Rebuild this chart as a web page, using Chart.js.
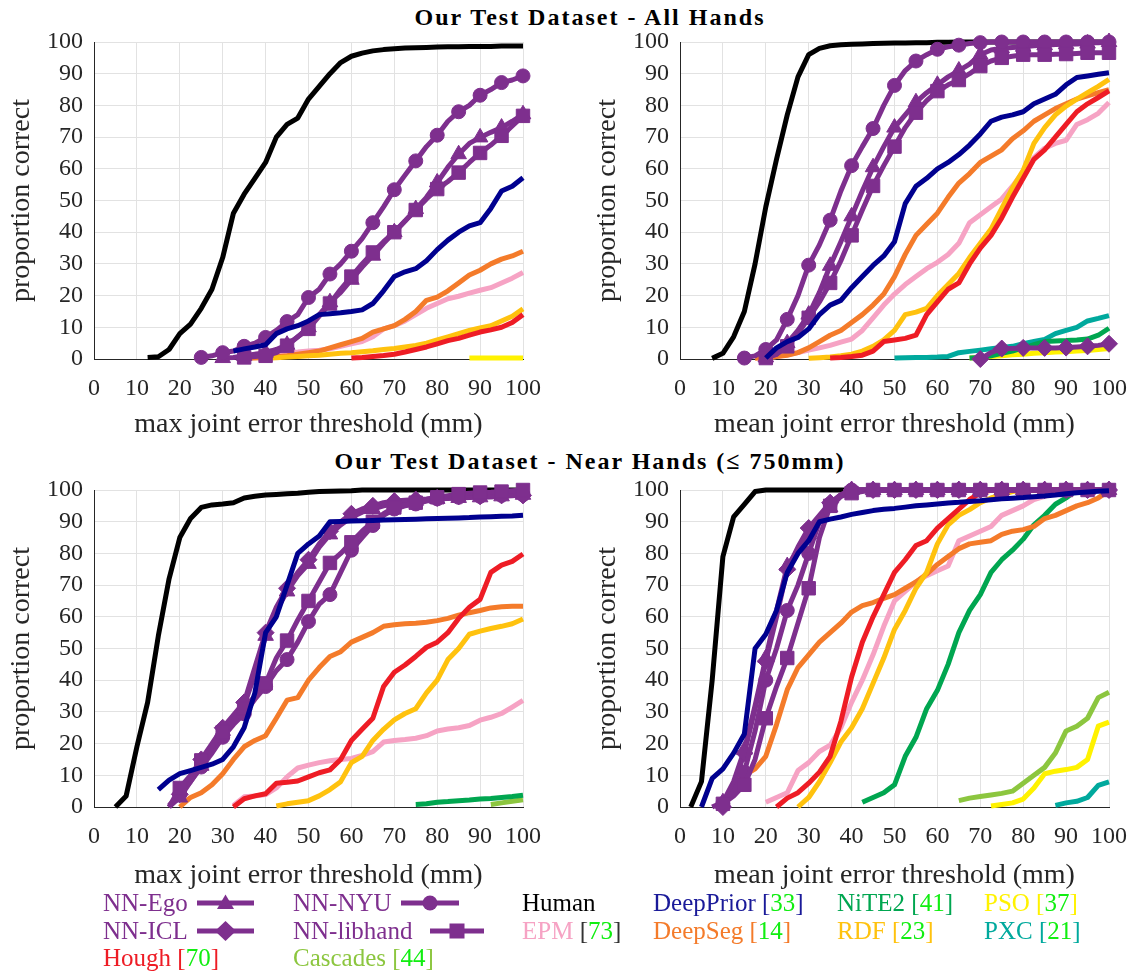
<!DOCTYPE html>
<html>
<head>
<meta charset="utf-8">
<title>Our Test Dataset</title>
<script src="https://cdn.jsdelivr.net/npm/chart.js@4.4.0/dist/chart.umd.min.js"></script>
<style>
  html, body { margin: 0; padding: 0; background: #fff; }
  body { width: 1142px; height: 974px; position: relative; overflow: hidden; font-family: "Liberation Serif", Tinos, "Times New Roman", "DejaVu Serif", serif; }
  canvas { position: absolute; }
  .title { position: absolute; left: 0; width: 1180px; text-align: center; font-weight: bold; font-size: 24px; line-height: 28px; letter-spacing: 2px; color: #000; }
  .leg { position: absolute; font-size: 25px; line-height: 28px; white-space: nowrap; }
  .leg .ref { color: #11ee11; }
  .mk { position: absolute; }
</style>
</head>
<body>

<div class="title" style="top:3px">Our Test Dataset - All Hands</div>
<div class="title" style="top:447px">Our Test Dataset - Near Hands (≤ 750mm)</div>

<canvas id="maxAll" width="556" height="445" style="left:0;top:0"></canvas>
<canvas id="meanAll" width="556" height="445" style="left:586px;top:0"></canvas>
<canvas id="maxNear" width="556" height="445" style="left:0;top:448px"></canvas>
<canvas id="meanNear" width="556" height="445" style="left:586px;top:448px"></canvas>

<!-- legend -->
<div class="leg" style="left:103px;top:889px;color:#7e2f8e">NN-Ego</div>
<svg class="mk" style="left:197px;top:893px" width="57" height="20">
  <line x1="0" y1="10" x2="57" y2="10" stroke="#7e2f8e" stroke-width="5"/>
  <polygon points="28.5,1.5 37,16 20,16" fill="#7e2f8e"/>
</svg>
<div class="leg" style="left:103px;top:917px;color:#7e2f8e">NN-ICL</div>
<svg class="mk" style="left:197px;top:920px" width="57" height="22">
  <line x1="0" y1="11" x2="57" y2="11" stroke="#7e2f8e" stroke-width="5"/>
  <polygon points="28.5,1 39,11 28.5,21 18,11" fill="#7e2f8e"/>
</svg>
<div class="leg" style="left:103px;top:944px;color:#ee1c25">Hough <span>[<span class="ref">70</span>]</span></div>

<div class="leg" style="left:293px;top:889px;color:#7e2f8e">NN-NYU</div>
<svg class="mk" style="left:401px;top:893px" width="58" height="20">
  <line x1="0" y1="10" x2="58" y2="10" stroke="#7e2f8e" stroke-width="5"/>
  <circle cx="29" cy="10" r="7.5" fill="#7e2f8e"/>
</svg>
<div class="leg" style="left:293px;top:917px;color:#7e2f8e">NN-libhand</div>
<svg class="mk" style="left:430px;top:921px" width="54" height="20">
  <line x1="0" y1="10" x2="54" y2="10" stroke="#7e2f8e" stroke-width="5"/>
  <rect x="19.5" y="2.5" width="15" height="15" fill="#7e2f8e"/>
</svg>
<div class="leg" style="left:293px;top:944px;color:#8cc63f">Cascades [<span class="ref">44</span>]</div>

<div class="leg" style="left:522px;top:889px;color:#000">Human</div>
<div class="leg" style="left:522px;top:917px;color:#f6a3c4">EPM <span style="color:#333">[<span class="ref">73</span>]</span></div>

<div class="leg" style="left:653px;top:889px;color:#1a1a99">DeepPrior [<span class="ref">33</span>]</div>
<div class="leg" style="left:653px;top:917px;color:#f47b2a">DeepSeg [<span class="ref">14</span>]</div>

<div class="leg" style="left:837px;top:889px;color:#00a650">NiTE2 [<span class="ref">41</span>]</div>
<div class="leg" style="left:837px;top:917px;color:#ffc20e">RDF [<span class="ref">23</span>]</div>

<div class="leg" style="left:984px;top:889px;color:#fff200">PSO [<span class="ref">37</span>]</div>
<div class="leg" style="left:984px;top:917px;color:#00a99d">PXC [<span class="ref">21</span>]</div>

<script>
// Threshold grid (mm), shared by every curve; each curve array is right-aligned to it
var THRESH = [0, 2.5, 5, 7.5, 10, 12.5, 15, 17.5, 20, 22.5, 25, 27.5, 30, 32.5, 35, 37.5, 40, 42.5, 45, 47.5,
  50, 52.5, 55, 57.5, 60, 62.5, 65, 67.5, 70, 72.5, 75, 77.5, 80, 82.5, 85, 87.5, 90, 92.5, 95, 97.5, 100];
var X_TICKS = [0, 10, 20, 30, 40, 50, 60, 70, 80, 90, 100];
var Y_TICKS = [0, 10, 20, 30, 40, 50, 60, 70, 80, 90, 100];

// ---- Top left: max joint error, all hands (values end at 100 mm) ----
var maxAllHuman = [0.5, 0.7, 3, 8, 11, 16, 22, 32, 46, 52, 57, 62, 70, 74, 76, 82, 86, 90, 93.5, 95.5, 96.5, 97.2, 97.6, 97.9, 98.1, 98.2, 98.3, 98.4, 98.5, 98.5, 98.6, 98.6, 98.6, 98.7, 98.7, 98.7];
var maxAllNYU = [0.5, 1, 2, 2.5, 4, 5, 6.8, 9, 11.8, 14, 19.4, 22, 26.8, 30, 34, 38, 43, 48, 53.4, 58, 62.5, 67, 70.6, 75, 78, 80, 83.2, 85, 87.2, 88, 89.3];
var maxAllEgo = [0.3, 0.5, 1, 1.5, 2, 3, 4.5, 7, 10, 14, 17.9, 21, 25, 29, 32.6, 36.5, 40, 43.5, 47.3, 51, 55.7, 60.5, 64.6, 68, 69.9, 71.5, 73, 75, 77.2];
var maxAllLibhand = [0.5, 0.8, 1, 2, 4.2, 7, 9.5, 13.5, 17.5, 22, 26, 30, 33.6, 37, 40, 43.5, 47, 50.5, 53.6, 56, 58.8, 62, 65, 67.5, 70.4, 73.5, 76.7];
var maxAllDeepPrior = [2.5, 3.2, 3.8, 4.5, 8, 9.5, 10.5, 12, 14, 14.3, 14.6, 15, 15.5, 17.5, 21.5, 26, 27.5, 28.5, 31, 34.5, 37.5, 40, 42, 43, 47.5, 53, 54.5, 57.2];
var maxAllDeepSeg = [0.2, 0.3, 0.5, 0.7, 1, 1.5, 2, 2.5, 3.5, 4.5, 5.5, 6.5, 8.5, 9.5, 10.5, 12.5, 15, 18.5, 19.5, 21.5, 24, 26.5, 28, 30, 31.5, 32.5, 34];
var maxAllEPM = [1.5, 1.6, 1.8, 2, 2.2, 2.5, 2.8, 3.2, 4, 4.8, 5.5, 7, 9.5, 10.5, 12, 14, 16, 17.5, 19, 19.8, 20.8, 21.7, 22.5, 24, 25.5, 27.3];
var maxAllRDF = [0.2, 0.4, 0.6, 0.8, 1, 1.2, 1.5, 1.8, 2, 2.3, 2.6, 3, 3.3, 3.8, 4.3, 5, 6, 7, 8, 9, 9.8, 10.5, 12, 13.5, 15.8];
var maxAllHough = [0.3, 0.5, 0.8, 1.1, 1.5, 2.2, 3, 3.8, 4.8, 5.8, 6.5, 7.5, 8.5, 9.2, 10, 11.5, 14];
var maxAllPSO = [0.3, 0.3, 0.3, 0.3, 0.3, 0.3];

// ---- Top right: mean joint error, all hands ----
var meanAllHuman = [0.2, 1.8, 7, 15, 30, 48, 63, 77, 89, 96, 98, 98.8, 99.1, 99.3, 99.4, 99.5, 99.6, 99.7, 99.7, 99.8, 99.8, 99.9, 99.9, 100, 100, 100, 100, 100, 100, 100, 100, 100, 100, 100, 100, 100, 100, 100];
var meanAllNYU = [0.3, 1, 3, 6, 12.5, 20, 29.6, 36, 43.8, 53, 61, 67, 72.7, 80, 86.3, 91, 94, 96, 97.7, 98.5, 99, 99.5, 99.8, 100, 100, 100, 100, 100, 100, 100, 100, 100, 100, 100, 100];
var meanAllEgo = [0.5, 1.5, 5, 9, 14, 21, 29.4, 37, 45, 53, 60.5, 67, 73, 77, 81, 84, 86.5, 89, 91, 93, 96, 97.5, 98, 98.3, 98.5, 98.8, 99, 99.2, 99.3, 99.4, 99.5, 99.8, 100];
var meanAllLibhand = [0.3, 1.5, 4, 8, 13, 18, 24, 31, 39, 47, 54.6, 61, 67, 73, 77.7, 81.5, 84.5, 86.5, 88, 90, 92.4, 94, 95, 95.5, 96, 96, 96, 96.1, 96.2, 96.4, 96.6, 96.6, 96.6];
var meanAllICL = [0, 2, 3.3, 3.3, 3.5, 3.5, 3.5, 3.5, 3.6, 3.8, 4, 4.3, 4.8];
var meanAllDeepPrior = [0.3, 3.5, 5.5, 6.8, 9.5, 14, 17, 18.5, 22.5, 26, 29.5, 32.5, 37, 49, 54.5, 57, 60, 62, 64.5, 67.5, 71, 75, 76.3, 77, 78, 80.5, 82, 83.5, 86.5, 88.8, 89.3, 89.8, 90.3];
var meanAllDeepSeg = [0.2, 0.4, 0.8, 1.2, 2, 3.5, 5.5, 7.5, 9, 11.5, 14, 17, 20.5, 26, 33, 39, 42.5, 46, 51, 55.5, 58.5, 62, 64, 66, 69.5, 72, 75, 77, 79, 80.5, 82, 83, 84, 85];
var meanAllEPM = [0.3, 0.8, 1.3, 2, 2.8, 3.5, 4.3, 5.3, 6.3, 9, 13, 17, 20.5, 23.5, 26, 28.5, 30.5, 33, 36.5, 43, 45.5, 48, 50.5, 54.5, 59, 63.5, 66.5, 68, 69, 74, 75.5, 77.5, 80.9];
var meanAllRDF = [0.2, 0.4, 0.6, 1, 1.5, 2.5, 4, 6, 9, 14, 14.8, 16, 20, 23.5, 27, 32, 36.5, 41, 47.5, 54, 59.5, 68, 73, 77, 79.8, 82, 84, 86, 88.2];
var meanAllHough = [0.3, 0.5, 0.8, 1.2, 2.5, 5.5, 6, 6.5, 7.5, 14, 18, 22, 24, 30, 35, 39, 44.5, 51, 57, 63, 66, 70, 74, 78, 80.5, 82.5, 84.6];
var meanAllNiTE2 = [0.3, 0.5, 1, 1.8, 2.5, 3.5, 4.5, 5.5, 5.7, 5.8, 6, 6.3, 7.5, 9.7];
var meanAllPXC = [0.3, 0.4, 0.5, 0.5, 0.6, 0.8, 2, 2.4, 2.8, 3.2, 3.6, 4, 4.8, 5.5, 6.2, 8, 9, 10, 12, 12.8, 13.7];
var meanAllPSO = [0.3, 0.5, 0.8, 1, 1.3, 1.5, 1.8, 2, 2.2, 2.3, 2.5, 2.7, 3, 3.3];

// ---- Bottom left: max joint error, near hands ----
var maxNearHuman = [0, 3.5, 19, 33, 54, 72, 85, 91, 94.5, 95.3, 95.6, 96, 97.5, 98, 98.4, 98.6, 98.8, 99, 99.3, 99.5, 99.6, 99.7, 99.8, 100, 100, 100, 100, 100, 100, 100, 100, 100, 100, 100, 100, 100, 100, 100, 100];
var maxNearEgo = [0, 3, 8, 13, 19, 24, 28, 32, 42, 54, 62, 68, 73, 76.7, 82, 86, 89, 91.4, 93, 94, 95, 95.6, 96, 96.6, 97, 97.2, 97.3, 97.5, 97.6, 97.7, 97.8, 98, 98.2, 98.5];
var maxNearICL = [0.5, 4, 9, 15, 20, 25, 29, 33, 44, 55, 63, 69, 74, 78, 83, 87, 90, 92.5, 94, 95, 96, 96.5, 96.8, 97, 97.2, 97.5, 97.7, 98, 98, 98, 98.2, 98.3, 98.3, 98.3];
var maxNearLibhand = [0, 6, 10, 14.7, 19, 23.6, 27, 31, 35, 39, 47, 52.5, 59, 65, 71, 77, 80, 83.5, 87, 90, 92.5, 94.5, 95.3, 96, 97, 97.7, 98.2, 98.7, 99, 99.2, 99.3, 99.5, 99.8, 100];
var maxNearNYU = [0, 4, 8, 12.6, 17, 22, 26, 29.4, 34, 38, 43, 46.5, 52, 58.5, 64, 67, 74, 81, 85, 88.8, 92, 94, 95, 95.6, 96.5, 97.2, 97.5, 97.7, 97.8, 98, 98.2, 98.3, 98.4, 98.5];
var maxNearDeepPrior = [5.5, 8.5, 10.5, 11.5, 12.5, 13.5, 15, 19, 25, 36, 55, 60, 70, 80, 83, 85.5, 90, 90.1, 90.2, 90.3, 90.4, 90.5, 90.6, 90.7, 90.8, 90.9, 91, 91.1, 91.2, 91.3, 91.5, 91.6, 91.7, 91.8, 92];
var maxNearDeepSeg = [0, 3, 4.5, 7, 10.5, 15, 19, 21, 22.5, 28, 33.7, 34.5, 40, 44, 47.5, 49, 52, 53.5, 55, 57, 57.5, 57.8, 58, 58.3, 58.8, 59.5, 60.5, 61.3, 62, 62.8, 63.2, 63.3, 63.3];
var maxNearEPM = [0.5, 3.2, 3.5, 3.9, 6, 9.5, 12.3, 13.2, 14, 14.6, 15, 15.3, 16.3, 17.5, 20.5, 21, 21.3, 21.7, 22.5, 24, 24.6, 25, 25.7, 27.4, 28.3, 29.5, 31.5, 33.6];
var maxNearHough = [0, 2.6, 3.5, 4.2, 7.5, 7.8, 8.2, 9.5, 10.8, 11.7, 15, 21, 24.5, 28, 38, 42.5, 44.8, 47.5, 50.4, 52, 55, 59.5, 63, 65.5, 74, 76.3, 77.5, 79.8];
var maxNearRDF = [0.3, 1, 1.5, 2, 3.5, 5.5, 8, 14, 16, 21, 24.5, 27.5, 29.5, 31, 36, 40, 46.5, 50, 54.5, 55.5, 56.3, 57, 57.8, 59.3];
var maxNearNiTE2 = [0.8, 1, 1.5, 1.7, 2, 2.2, 2.5, 2.7, 3, 3.3, 3.7];
var maxNearCascades = [0.8, 1.3, 1.8, 2.3];

// ---- Bottom right: mean joint error, near hands ----
var meanNearHuman = [0, 8, 40, 79, 91.5, 95.5, 99.5, 100, 100, 100, 100, 100, 100, 100, 100, 100, 100, 100, 100, 100, 100, 100, 100, 100, 100, 100, 100, 100, 100, 100, 100, 100, 100, 100, 100, 100, 100, 100, 100, 100];
var meanNearEgo = [0, 1.5, 8, 18, 32, 47, 62, 76, 81, 86, 90, 94.5, 98, 100, 100, 100, 100, 100, 100, 100, 100, 100, 100, 100, 100, 100, 100, 100, 100, 100, 100, 100, 100, 100, 100, 100, 100, 100];
var meanNearICL = [0, 7, 17, 31, 46, 60, 75, 82, 88, 92, 96, 98.5, 100, 100, 100, 100, 100, 100, 100, 100, 100, 100, 100, 100, 100, 100, 100, 100, 100, 100, 100, 100, 100, 100, 100, 100, 100];
var meanNearNYU = [1, 5, 11, 24, 40, 50, 62, 70, 80, 90, 95.6, 98.5, 100, 100, 100, 100, 100, 100, 100, 100, 100, 100, 100, 100, 100, 100, 100, 100, 100, 100, 100, 100, 100, 100, 100, 100, 100];
var meanNearLibhand = [1, 3.5, 7, 15, 28, 38, 47, 58, 69, 85, 95, 98, 99, 99.5, 100, 100, 100, 100, 100, 100, 100, 100, 100, 100, 100, 100, 100, 100, 100, 100, 100, 100, 100, 100, 100, 100, 100];
var meanNearDeepPrior = [0, 9, 12, 17, 23, 50, 54.5, 62, 74, 80, 84, 90, 90.8, 91.5, 92.3, 92.9, 93.5, 93.9, 94.2, 94.6, 95, 95.3, 95.6, 95.9, 96.1, 96.4, 96.6, 96.9, 97.2, 97.4, 97.6, 97.9, 98.1, 98.4, 98.8, 99.1, 99.4, 99.6, 99.8];
var meanNearDeepSeg = [8, 10, 12, 16, 26, 37, 44, 48, 52, 55, 58, 61.5, 63.5, 64.5, 65.8, 67, 69, 71, 73.5, 76.5, 79, 81.5, 83, 83.5, 84, 86, 87, 87.5, 88.5, 91, 92, 93.5, 95, 96, 97.5, 99.8];
var meanNearEPM = [1.5, 3, 4.5, 11.5, 14, 17.5, 19.5, 25, 33, 40, 48, 57, 65, 68, 71, 73, 74.5, 76, 84, 85.5, 87, 88.5, 92, 93.5, 95, 97, 98, 99, 99.8, 100, 100, 100, 100];
var meanNearHough = [0, 2.8, 4.5, 7.5, 11, 16, 27, 41, 52, 60, 67, 74, 78, 82.5, 84, 88, 91, 94, 97, 99, 100, 100, 100, 100, 100, 100, 100, 100, 100, 100, 100, 100];
var meanNearRDF = [0, 3, 8, 14, 20.5, 25, 31, 39, 47, 56, 62, 69, 74, 83, 89, 92, 93.8, 96, 97.5, 98.5, 99.5, 100, 100, 100, 100, 100, 100, 100, 100, 100];
var meanNearNiTE2 = [1.5, 3, 4.5, 7, 16, 22, 31, 36.8, 45, 55, 62, 67, 74, 78, 81, 84.5, 89, 92, 95.5, 97.5, 100, 100, 100, 100];
var meanNearCascades = [2, 2.8, 3.3, 3.8, 4.3, 5, 7.5, 10, 12.5, 17, 24, 25.5, 28, 34.5, 36.2];
var meanNearPSO = [0.3, 0.8, 1.3, 2.5, 6, 10.5, 11.3, 11.8, 12.5, 15, 25.5, 26.8];
var meanNearPXC = [0.5, 1.3, 1.8, 3, 6.8, 7.9];

(function () {
  'use strict';

  var FONT = '"Liberation Serif", Tinos, "Times New Roman", "DejaVu Serif", serif';
  var PURPLE = '#7e2f8e';

  var STYLE = {
    'DeepPrior':  { color: '#00008f' },
    'NN-libhand': { color: PURPLE, marker: 'rect', r: 9.5 },
    'NN-NYU':     { color: PURPLE, marker: 'circle', r: 7 },
    'NN-ICL':     { color: PURPLE, marker: 'rectRot', r: 8.5 },
    'NN-Ego':     { color: PURPLE, marker: 'triangle', r: 9 },
    'Hough':      { color: '#ee1c25' },
    'RDF':        { color: '#ffc20e' },
    'DeepSeg':    { color: '#f47b2a' },
    'EPM':        { color: '#f6a3c4' },
    'NiTE2':      { color: '#00a650' },
    'PXC':        { color: '#00a99d' },
    'Cascades':   { color: '#8cc63f' },
    'PSO':        { color: '#fff200' },
    'Human':      { color: '#000000' }
  };
  // first entry is drawn on top
  var DRAW_ORDER = ['DeepPrior', 'NN-libhand', 'NN-NYU', 'NN-ICL', 'NN-Ego', 'Hough', 'RDF', 'DeepSeg',
    'EPM', 'NiTE2', 'PXC', 'Cascades', 'PSO', 'Human'];

  var panels = [
    { id: 'maxAll', xTitle: 'max joint error threshold (mm)', titlePad: 4, series: {
      'Human': maxAllHuman, 'NN-NYU': maxAllNYU, 'NN-Ego': maxAllEgo, 'NN-libhand': maxAllLibhand,
      'DeepPrior': maxAllDeepPrior, 'DeepSeg': maxAllDeepSeg, 'EPM': maxAllEPM, 'RDF': maxAllRDF,
      'Hough': maxAllHough, 'PSO': maxAllPSO } },
    { id: 'meanAll', xTitle: 'mean joint error threshold (mm)', titlePad: 4, series: {
      'Human': meanAllHuman, 'NN-NYU': meanAllNYU, 'NN-Ego': meanAllEgo, 'NN-libhand': meanAllLibhand,
      'NN-ICL': meanAllICL, 'DeepPrior': meanAllDeepPrior, 'DeepSeg': meanAllDeepSeg, 'EPM': meanAllEPM,
      'RDF': meanAllRDF, 'Hough': meanAllHough, 'NiTE2': meanAllNiTE2, 'PXC': meanAllPXC, 'PSO': meanAllPSO } },
    { id: 'maxNear', xTitle: 'max joint error threshold (mm)', titlePad: 1, series: {
      'Human': maxNearHuman, 'NN-Ego': maxNearEgo, 'NN-ICL': maxNearICL, 'NN-libhand': maxNearLibhand,
      'NN-NYU': maxNearNYU, 'DeepPrior': maxNearDeepPrior, 'DeepSeg': maxNearDeepSeg, 'EPM': maxNearEPM,
      'Hough': maxNearHough, 'RDF': maxNearRDF, 'NiTE2': maxNearNiTE2, 'Cascades': maxNearCascades } },
    { id: 'meanNear', xTitle: 'mean joint error threshold (mm)', titlePad: 1, series: {
      'Human': meanNearHuman, 'NN-Ego': meanNearEgo, 'NN-ICL': meanNearICL, 'NN-NYU': meanNearNYU,
      'NN-libhand': meanNearLibhand, 'DeepPrior': meanNearDeepPrior, 'DeepSeg': meanNearDeepSeg,
      'EPM': meanNearEPM, 'Hough': meanNearHough, 'RDF': meanNearRDF, 'NiTE2': meanNearNiTE2,
      'Cascades': meanNearCascades, 'PSO': meanNearPSO, 'PXC': meanNearPXC } }
  ];

  // right-align a curve on the threshold grid (curves all end at 100 mm)
  function toPoints(values) {
    var lead = THRESH.length - values.length;
    var pts = [];
    for (var i = lead; i < THRESH.length; i++) {
      pts.push({ x: THRESH[i], y: values[i - lead] });
    }
    return pts;
  }

  function makeDataset(name, values) {
    var st = STYLE[name];
    return {
      label: name,
      data: toPoints(values),
      borderColor: st.color,
      backgroundColor: st.color,
      borderWidth: 5,
      borderJoinStyle: 'round',
      tension: 0,
      clip: false,
      pointStyle: st.marker || 'circle',
      pointBorderColor: st.color,
      pointBackgroundColor: st.color,
      pointBorderWidth: 1,
      pointRadius: function (c) {
        var p = c.raw;
        return (st.marker && p && p.x % 5 === 0) ? st.r : 0;
      },
      pointHoverRadius: 0
    };
  }

  function tickValues(list) {
    return function (scale) {
      scale.ticks = list.map(function (v) { return { value: v }; });
    };
  }

  panels.forEach(function (p) {
    var datasets = [];
    DRAW_ORDER.forEach(function (name) {
      if (p.series[name]) datasets.push(makeDataset(name, p.series[name]));
    });

    new Chart(document.getElementById(p.id).getContext('2d'), {
      type: 'line',
      data: { datasets: datasets },
      options: {
        responsive: false,
        animation: false,
        devicePixelRatio: 1,
        events: [],
        layout: { padding: { top: 42, right: 23, bottom: 0, left: 0 } },
        plugins: { legend: { display: false }, tooltip: { enabled: false } },
        scales: {
          x: {
            type: 'linear', min: 0, max: 100,
            afterBuildTicks: tickValues(X_TICKS),
            ticks: { color: '#262626', font: { family: FONT, size: 24 }, padding: 15, maxRotation: 0, autoSkip: false },
            grid: { color: '#e2e2e2', lineWidth: 1, drawTicks: false },
            border: { display: true, color: '#262626', width: 1 },
            title: { display: true, text: p.xTitle, color: '#262626', font: { family: FONT, size: 28 },
              padding: { top: 0, bottom: p.titlePad } },
            afterFit: function (s) { s.height = 86; }
          },
          y: {
            type: 'linear', min: 0, max: 100,
            afterBuildTicks: tickValues(Y_TICKS),
            ticks: { color: '#262626', font: { family: FONT, size: 24 }, padding: 11, autoSkip: false },
            grid: { color: '#e2e2e2', lineWidth: 1, drawTicks: false },
            border: { display: true, color: '#262626', width: 1 },
            title: { display: true, text: 'proportion correct', color: '#262626', font: { family: FONT, size: 28 },
              padding: { top: 5, bottom: 0 } },
            afterFit: function (s) { s.width = 94; }
          }
        }
      }
    });
  });
})();
</script>
</body>
</html>
